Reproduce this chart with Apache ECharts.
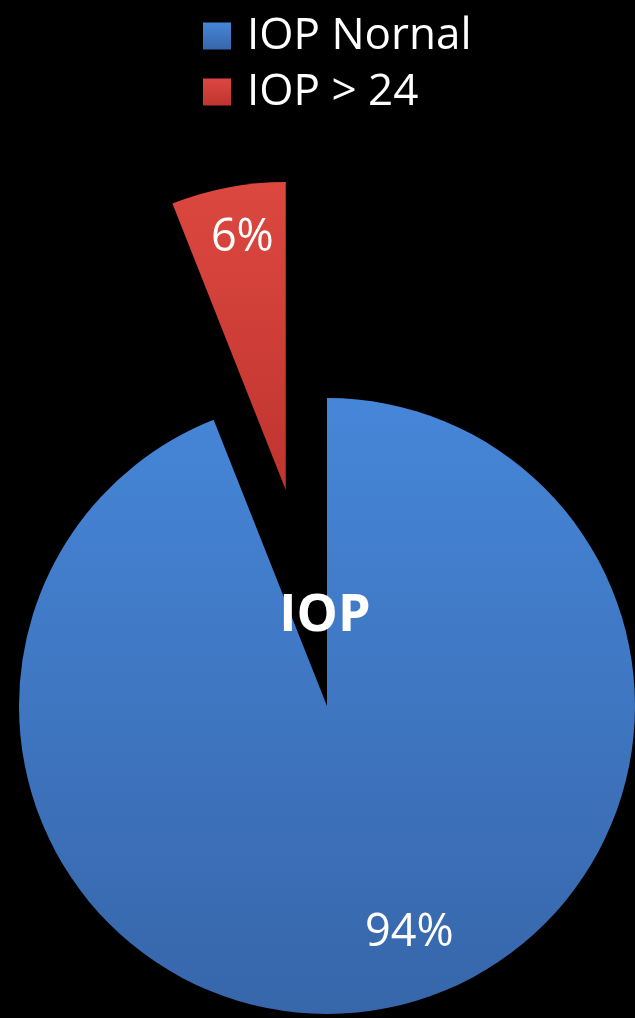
<!DOCTYPE html>
<html>
<head>
<meta charset="utf-8">
<script src="https://cdn.jsdelivr.net/npm/echarts@6/dist/echarts.min.js"></script>
<style>
html,body{margin:0;padding:0;background:#000;}
#c{width:635px;height:1018px;}
</style>
</head>
<body>
<div id="c"></div>
<script>
const categories = ['IOP Nornal', 'IOP > 24'];
const values = [94, 6];
const centerTitle = 'IOP';

const chart = echarts.init(document.getElementById('c'), null, {renderer: 'canvas'});
const blue = new echarts.graphic.LinearGradient(0, 0, 0, 1, [
  {offset: 0, color: '#4686d8'}, {offset: 1, color: '#3766aa'}]);
const red = new echarts.graphic.LinearGradient(0, 0, 0, 1, [
  {offset: 0, color: '#dc4840'}, {offset: 1, color: '#c0342f'}]);
const colors = [blue, red];
const labelOffsets = [[53, 73], [-14, -97]];

chart.setOption({
  backgroundColor: '#000',
  animation: false,
  legend: {
    orient: 'vertical',
    left: 198,
    top: 8,
    icon: 'rect',
    itemWidth: 28,
    itemHeight: 27,
    itemGap: 10,
    selectedMode: false,
    textStyle: {
      color: '#fff',
      fontFamily: 'Open Sans',
      fontSize: 44,
      lineHeight: 46,
      padding: [0, 0, 0, 11]
    },
    data: categories
  },
  graphic: [{
    type: 'text',
    x: 325,
    y: 590,
    style: {
      text: centerTitle,
      fill: '#fff',
      font: 'bold 52px "Open Sans"',
      textAlign: 'center',
      textVerticalAlign: 'top'
    },
    z: 100
  }],
  series: [{
    type: 'pie',
    center: [327, 706],
    radius: 308,
    startAngle: 90,
    clockwise: true,
    selectedMode: 'single',
    selectedOffset: 220,
    avoidLabelOverlap: false,
    label: {
      show: true,
      position: 'inside',
      formatter: '{d}%',
      color: '#fff',
      fontFamily: 'Open Sans',
      fontSize: 45
    },
    labelLine: {show: false},
    emphasis: {disabled: true},
    data: categories.map((name, i) => ({
      name: name,
      value: values[i],
      selected: i === 1,
      itemStyle: {color: colors[i]},
      label: {offset: labelOffsets[i]},
      select: {label: {offset: labelOffsets[i]}}
    }))
  }]
});
</script>
</body>
</html>
